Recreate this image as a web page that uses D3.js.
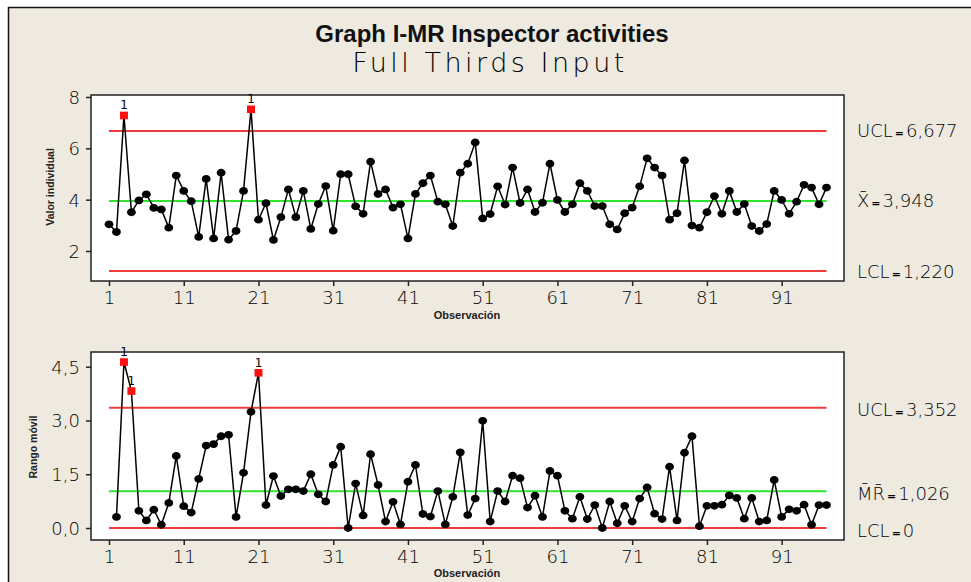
<!DOCTYPE html>
<html>
<head>
<meta charset="utf-8">
<script src="https://cdn.jsdelivr.net/npm/d3@7"></script>
<style>
  body { margin: 0; background: #fff; }
  .plotter { font-family: "DejaVu Sans", sans-serif; font-weight: 200; fill: #000; }
  .arialb { font-family: "Liberation Sans", Arial, sans-serif; font-weight: bold; fill: #222; }
</style>
</head>
<body>
<div id="svg-container"></div>
<script>
var individual = [3.04, 2.74, 7.28, 3.51, 3.97, 4.21, 3.68, 3.62, 2.91, 4.94,
                  4.34, 3.94, 2.55, 4.81, 2.49, 5.05, 2.44, 2.78, 4.34, 7.52,
                  3.22, 3.86, 2.43, 3.32, 4.40, 3.32, 4.34, 2.86, 3.83, 4.53,
                  2.79, 4.99, 4.99, 3.74, 3.45, 5.48, 4.22, 4.40, 3.69, 3.82,
                  2.49, 4.22, 4.64, 4.94, 3.92, 3.82, 2.97, 5.05, 5.40, 6.23,
                  3.27, 3.44, 4.52, 3.81, 5.25, 3.87, 4.40, 3.52, 3.88, 5.40,
                  3.99, 3.52, 3.82, 4.64, 4.34, 3.75, 3.75, 3.04, 2.84, 3.47,
                  3.69, 4.52, 5.61, 5.25, 4.94, 3.22, 3.47, 5.53, 2.99, 2.91,
                  3.51, 4.14, 3.45, 4.34, 3.52, 3.83, 2.97, 2.78, 3.05, 4.34,
                  3.99, 3.45, 3.92, 4.58, 4.47, 3.82, 4.47];

// Moving ranges, observations 2..97 (obs 1 has none)
var movingRange = [null, 0.31, 4.63, 3.82, 0.48, 0.21, 0.51, 0.09, 0.70, 2.01,
                   0.61, 0.43, 1.37, 2.30, 2.34, 2.56, 2.60, 0.31, 1.54, 3.24,
                   4.33, 0.64, 1.45, 0.89, 1.08, 1.08, 1.03, 1.50, 0.94, 0.74,
                   1.76, 2.27, 0.00, 1.24, 0.35, 2.06, 1.20, 0.18, 0.73, 0.10,
                   1.29, 1.76, 0.39, 0.32, 1.03, 0.10, 0.87, 2.11, 0.36, 0.82,
                   2.99, 0.18, 1.03, 0.74, 1.46, 1.39, 0.57, 0.90, 0.31, 1.59,
                   1.46, 0.48, 0.26, 0.87, 0.25, 0.64, 0.00, 0.74, 0.13, 0.62,
                   0.18, 0.82, 1.13, 0.40, 0.25, 1.71, 0.21, 2.10, 2.56, 0.05,
                   0.62, 0.62, 0.65, 0.91, 0.84, 0.26, 0.84, 0.18, 0.21, 1.34,
                   0.31, 0.52, 0.48, 0.65, 0.09, 0.64, 0.64];

// Control limits
var iLimits = {ucl: 6.677, center: 3.948, lcl: 1.220};
var mrLimits = {ucl: 3.352, center: 1.026, lcl: 0};

// Axis ticks
var xTicks = [1, 11, 21, 31, 41, 51, 61, 71, 81, 91];
var iTicks = [2, 4, 6, 8];
var mrTicks = [0, 1.5, 3, 4.5];

// Configuration
var config = {
    width: 971,
    height: 582,
    plotLeft: 91,
    plotRight: 844,
    top: {y0: 95, y1: 281},
    bottom: {y0: 352, y1: 540},
    red: "#ef3b3b",
    green: "#2fe62f",
    bg: "#eeeae0"
};

// Minitab here uses a comma as decimal separator
var locale = d3.formatLocale({decimal: ",", thousands: ".", grouping: [3], currency: ["", ""]});
var fmt1 = locale.format(".1f");
var fmt3 = locale.format(".3f");

var obs = d3.range(1, individual.length + 1);

var x = d3.scaleLinear().domain([1, 97]).range([109, 826.5]);
var yI = d3.scaleLinear().domain([2, 8]).range([251, 97]);
var yMR = d3.scaleLinear().domain([0, 4.5]).range([528, 366.7]);

var svg = d3.select("#svg-container")
    .append("svg")
    .attr("width", config.width)
    .attr("height", config.height)
    .style("display", "block");

// Panel background with its dark border on top and left
svg.append("rect")
    .attr("x", 8).attr("y", 7)
    .attr("width", config.width).attr("height", config.height)
    .attr("fill", config.bg);
svg.append("path")
    .attr("d", "M8.5," + config.height + "V7.5H" + config.width)
    .attr("fill", "none")
    .attr("stroke", "#111")
    .attr("stroke-width", 1.5);

// Titles
svg.append("text")
    .attr("class", "arialb")
    .attr("x", 492).attr("y", 42)
    .attr("text-anchor", "middle")
    .style("font-size", "24px")
    .style("fill", "#111")
    .text("Graph I-MR Inspector activities");

svg.append("text")
    .attr("class", "plotter")
    .attr("x", 490).attr("y", 72)
    .attr("text-anchor", "middle")
    .style("font-size", "27px")
    .style("letter-spacing", "3.5px")
    .text("Full Thirds Input");

// Draws one control chart panel
function drawChart(opts) {
    var g = svg.append("g");
    var y = opts.y;

    g.append("rect")
        .attr("x", config.plotLeft).attr("y", opts.box.y0)
        .attr("width", config.plotRight - config.plotLeft)
        .attr("height", opts.box.y1 - opts.box.y0)
        .attr("fill", "#fff")
        .attr("stroke", "#222")
        .attr("stroke-width", 1.5);

    // Axes
    var yAxis = g.append("g")
        .attr("class", "plotter")
        .attr("transform", "translate(" + config.plotLeft + ",0)")
        .call(d3.axisLeft(y).tickValues(opts.ticks).tickFormat(opts.tickFormat).tickSize(5).tickPadding(6));
    var xAxis = g.append("g")
        .attr("class", "plotter")
        .attr("transform", "translate(0," + opts.box.y1 + ")")
        .call(d3.axisBottom(x).tickValues(xTicks).tickSize(5).tickPadding(5));
    [yAxis, xAxis].forEach(function(a) {
        a.select(".domain").remove();
        a.selectAll("line").attr("stroke", "#222").attr("stroke-width", 1.5);
        a.selectAll("text").style("font-size", "18px").style("fill", "#000")
            .attr("font-family", null);
    });
    yAxis.selectAll("text").attr("dy", "0.36em");

    g.append("text")
        .attr("class", "arialb")
        .attr("x", 467).attr("y", opts.box.y1 + opts.xLabelDy)
        .attr("text-anchor", "middle")
        .style("font-size", "11px")
        .text("Observación");

    g.append("text")
        .attr("class", "arialb")
        .attr("transform", "translate(" + opts.yLabelX + "," + opts.yLabelY + ") rotate(-90)")
        .attr("text-anchor", "middle")
        .attr("dy", "0.35em")
        .style("font-size", "10.5px")
        .text(opts.yLabel);

    // Control limit lines
    var lim = opts.limits;
    [["ucl", config.red], ["center", config.green], ["lcl", config.red]].forEach(function(l) {
        g.append("line")
            .attr("x1", x(1)).attr("x2", x(97))
            .attr("y1", y(lim[l[0]])).attr("y2", y(lim[l[0]]))
            .attr("stroke", l[1])
            .attr("stroke-width", 2);
    });

    // Limit labels on the right
    opts.labels.forEach(function(lb) {
        var t = g.append("text")
            .attr("class", "plotter")
            .attr("x", 857).attr("y", lb.y)
            .attr("dy", "0.36em")
            .style("font-size", "18px");
        t.append("tspan").text(lb.name);
        t.append("tspan").style("font-size", "11px").style("font-weight", "bold").attr("dx", 2).text("=");
        t.append("tspan").attr("dx", 2).text(lb.value);
    });

    // Data line
    var pts = obs.map(function(n, i) { return {n: n, v: opts.data[i]}; })
        .filter(function(d) { return d.v !== null; });

    g.append("path")
        .datum(pts)
        .attr("fill", "none")
        .attr("stroke", "#000")
        .attr("stroke-width", 1.5)
        .attr("d", d3.line().x(function(d) { return x(d.n); }).y(function(d) { return y(d.v); }));

    var isOut = function(d) { return d.v > lim.ucl || d.v < lim.lcl; };

    g.selectAll(".dot")
        .data(pts.filter(function(d) { return !isOut(d); }))
        .enter().append("ellipse")
        .attr("class", "dot")
        .attr("cx", function(d) { return x(d.n); })
        .attr("cy", function(d) { return y(d.v); })
        .attr("rx", 4.4).attr("ry", 3.9)
        .attr("fill", "#000");

    var out = pts.filter(isOut);
    g.selectAll(".flag")
        .data(out)
        .enter().append("rect")
        .attr("class", "flag")
        .attr("x", function(d) { return x(d.n) - 4; })
        .attr("y", function(d) { return y(d.v) - 3.8; })
        .attr("width", 8).attr("height", 7.6)
        .attr("fill", "#ff1010");

    // Test 1 markers
    g.selectAll(".flagnum")
        .data(out)
        .enter().append("text")
        .attr("class", "plotter")
        .attr("x", function(d) { return x(d.n); })
        .attr("y", function(d) { return y(d.v) - 6; })
        .attr("text-anchor", "middle")
        .style("font-size", "12px")
        .style("font-weight", "normal")
        .text("1");
}

drawChart({
    data: individual,
    y: yI,
    box: config.top,
    ticks: iTicks,
    tickFormat: d3.format("d"),
    limits: iLimits,
    yLabel: "Valor individual",
    yLabelX: 50, yLabelY: 187,
    xLabelDy: 38,
    labels: [
        {name: "UCL", value: fmt3(iLimits.ucl), y: yI(iLimits.ucl)},
        {name: "X\u0304", value: fmt3(iLimits.center), y: yI(iLimits.center)},
        {name: "LCL", value: fmt3(iLimits.lcl), y: yI(iLimits.lcl)}
    ]
});

drawChart({
    data: movingRange,
    y: yMR,
    box: config.bottom,
    ticks: mrTicks,
    tickFormat: fmt1,
    limits: mrLimits,
    yLabel: "Rango móvil",
    yLabelX: 33, yLabelY: 447,
    xLabelDy: 37,
    labels: [
        {name: "UCL", value: fmt3(mrLimits.ucl), y: yMR(mrLimits.ucl) + 2},
        {name: "M\u0304R\u0304", value: fmt3(mrLimits.center), y: yMR(mrLimits.center) + 2},
        {name: "LCL", value: "0", y: yMR(mrLimits.lcl) + 3}
    ]
});
</script>
</body>
</html>
